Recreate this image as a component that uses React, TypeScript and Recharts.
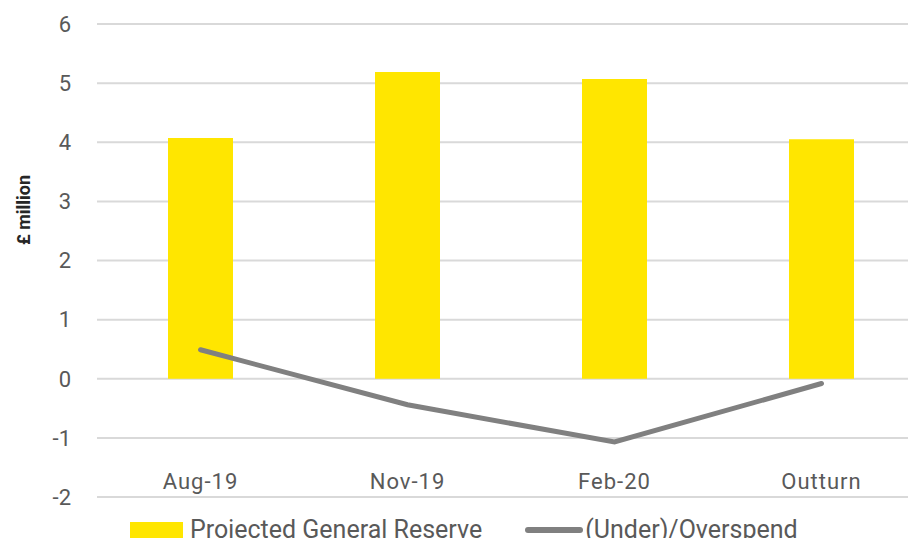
import React from "react";
import {
  ComposedChart,
  Bar,
  Line,
  XAxis,
  YAxis,
  CartesianGrid,
  Legend,
} from "recharts";

// values
const periods = ["Aug-19", "Nov-19", "Feb-20", "Outturn"];
const generalReserve = [4.07, 5.19, 5.07, 4.05];
const underOverspend = [0.49, -0.44, -1.07, -0.08];
const yTicks = [-2, -1, 0, 1, 2, 3, 4, 5, 6];

const data = periods.map((p, i) => ({
  period: p,
  reserve: generalReserve[i],
  spend: underOverspend[i],
}));

const FONT = "Roboto, 'Open Sans', sans-serif";
const YELLOW = "#ffe600";
const GREY = "#808080";

// Excel puts the category labels inside the plot, just above the -2 line
const XTick = ({ x, payload }: any) => (
  <text
    x={x}
    y={489}
    textAnchor="middle"
    fill="#595959"
    fontSize={22}
    letterSpacing={1}
    fontFamily={FONT}
  >
    {payload.value}
  </text>
);

const LegendContent = () => (
  <div
    style={{
      display: "flex",
      alignItems: "center",
      fontFamily: FONT,
      fontSize: 25,
      lineHeight: "28px",
      color: "#595959",
      whiteSpace: "nowrap",
    }}
  >
    <span
      style={{
        display: "inline-block",
        width: 53,
        height: 17,
        background: YELLOW,
        marginRight: 7,
      }}
    />
    <span>Projected General Reserve</span>
    <span
      style={{
        display: "inline-block",
        width: 58,
        height: 6,
        borderRadius: 3,
        background: GREY,
        marginLeft: 43,
        marginRight: 2,
      }}
    />
    <span>(Under)/Overspend</span>
  </div>
);

export default function App() {
  return (
    <div style={{ margin: -8, width: 916, height: 546, overflow: "hidden", background: "#fff" }}>
      <ComposedChart
        width={930}
        height={560}
        data={data}
        margin={{ top: 24, right: 5, bottom: 34, left: 0 }}
      >
        <CartesianGrid vertical={false} stroke="#d9d9d9" strokeWidth={2} />
        <XAxis
          dataKey="period"
          axisLine={false}
          tickLine={false}
          tick={<XTick />}
          height={1}
        />
        <YAxis
          width={97}
          domain={[-2, 6]}
          ticks={yTicks}
          axisLine={false}
          tickLine={false}
          tickMargin={20}
          tick={{ fill: "#595959", fontSize: 22, fontFamily: FONT }}
          label={{
            content: () => (
              <text
                transform="translate(30,210) rotate(-90)"
                textAnchor="middle"
                fill="#262626"
                fontSize={18}
                fontWeight="bold"
                fontFamily={FONT}
              >
                £ million
              </text>
            ),
          }}
        />
        <Bar
          dataKey="reserve"
          name="Projected General Reserve"
          fill={YELLOW}
          barSize={65}
          isAnimationActive={false}
        />
        <Line
          dataKey="spend"
          name="(Under)/Overspend"
          type="linear"
          stroke={GREY}
          strokeWidth={5}
          strokeLinecap="round"
          dot={false}
          activeDot={false}
          isAnimationActive={false}
        />
        <Legend
          content={<LegendContent />}
          wrapperStyle={{ position: "absolute", left: 130, top: 516, width: "auto" }}
        />
      </ComposedChart>
    </div>
  );
}
